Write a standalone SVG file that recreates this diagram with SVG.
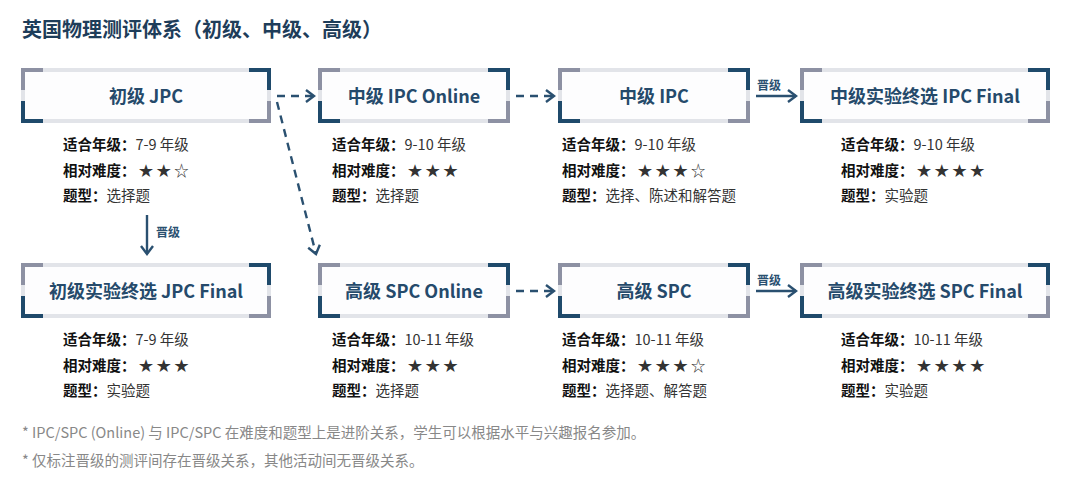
<svg xmlns="http://www.w3.org/2000/svg" width="1080" height="486" viewBox="0 0 1080 486">
<defs>
<style>
text{font-family:"Noto Sans CJK SC","Noto Sans",sans-serif}
.t{font-size:20px;font-weight:bold;fill:#1e3d5a}
.bt{font-size:18px;font-weight:bold;fill:#254a6b;text-anchor:middle}
.i{font-size:14.5px;fill:#333}
.i tspan.b{font-weight:bold;fill:#111}
.f{font-size:14.5px;fill:#888}
.box{fill:#fdfdfe;stroke:#e2e4e9;stroke-width:4}
.g{fill:none;stroke:#8d91a3;stroke-width:4}
.d{fill:none;stroke:#1f4a6b;stroke-width:4}
.c{fill:none;stroke:#2a5070;stroke-width:2.4}
.dash{stroke-dasharray:8 6}
.lb{font-size:12px;font-weight:bold;fill:#2a5070}
</style>
<marker id="a" viewBox="0 0 12 14" refX="10" refY="7" markerWidth="12" markerHeight="14" markerUnits="userSpaceOnUse" orient="auto"><path d="M2 1L10 7L2 13" fill="none" stroke="#2a5070" stroke-width="2.4"/></marker>
</defs>
<text class="t" x="22" y="37">英国物理测评体系（初级、中级、高级）</text>
<g id="connectors">
<path class="c dash" d="M277 96H314" marker-end="url(#a)"/>
<path class="c dash" d="M277 102L316 254" marker-end="url(#a)"/>
<path class="c dash" d="M516 96H554" marker-end="url(#a)"/>
<path class="c dash" d="M516 291H554" marker-end="url(#a)"/>
<path class="c" d="M756 96H796" marker-end="url(#a)"/>
<text class="lb" x="757" y="90">晋级</text>
<path class="c" d="M756 291H796" marker-end="url(#a)"/>
<text class="lb" x="757" y="285">晋级</text>
<path class="c" d="M147 215V254" marker-end="url(#a)"/>
<text class="lb" x="156" y="237">晋级</text>
</g>
<g id="n1" transform="translate(21,68)"><rect class="box" x="2" y="2" width="246" height="51"/><path class="g" d="M22 2H2V22M228 53H248V33"/><path class="d" d="M2 33V53H22M228 2H248V22"/><text class="bt" x="125" y="35">初级 JPC</text>
<text class="i" x="42" y="82"><tspan class="b">适合年级：</tspan>7-9 年级</text><text class="i" x="42" y="108"><tspan class="b">相对难度：</tspan> ★ ★ ☆</text><text class="i" x="42" y="133"><tspan class="b">题型：</tspan>选择题</text></g>
<g id="n2" transform="translate(318,68)"><rect class="box" x="2" y="2" width="188" height="51"/><path class="g" d="M22 2H2V22M170 53H190V33"/><path class="d" d="M2 33V53H22M170 2H190V22"/><text class="bt" x="96" y="35">中级 IPC Online</text>
<text class="i" x="14" y="82"><tspan class="b">适合年级：</tspan>9-10 年级</text><text class="i" x="14" y="108"><tspan class="b">相对难度：</tspan> ★ ★ ★</text><text class="i" x="14" y="133"><tspan class="b">题型：</tspan>选择题</text></g>
<g id="n3" transform="translate(558,68)"><rect class="box" x="2" y="2" width="188" height="51"/><path class="g" d="M22 2H2V22M170 53H190V33"/><path class="d" d="M2 33V53H22M170 2H190V22"/><text class="bt" x="96" y="35">中级 IPC</text>
<text class="i" x="4" y="82"><tspan class="b">适合年级：</tspan>9-10 年级</text><text class="i" x="4" y="108"><tspan class="b">相对难度：</tspan> ★ ★ ★ ☆</text><text class="i" x="4" y="133"><tspan class="b">题型：</tspan>选择、陈述和解答题</text></g>
<g id="n4" transform="translate(800,68)"><rect class="box" x="2" y="2" width="246" height="51"/><path class="g" d="M22 2H2V22M228 53H248V33"/><path class="d" d="M2 33V53H22M228 2H248V22"/><text class="bt" x="125" y="35">中级实验终选 IPC Final</text>
<text class="i" x="41" y="82"><tspan class="b">适合年级：</tspan>9-10 年级</text><text class="i" x="41" y="108"><tspan class="b">相对难度：</tspan> ★ ★ ★ ★</text><text class="i" x="41" y="133"><tspan class="b">题型：</tspan>实验题</text></g>
<g id="n5" transform="translate(21,263)"><rect class="box" x="2" y="2" width="246" height="51"/><path class="g" d="M22 2H2V22M228 53H248V33"/><path class="d" d="M2 33V53H22M228 2H248V22"/><text class="bt" x="125" y="35">初级实验终选 JPC Final</text>
<text class="i" x="42" y="82"><tspan class="b">适合年级：</tspan>7-9 年级</text><text class="i" x="42" y="108"><tspan class="b">相对难度：</tspan> ★ ★ ★</text><text class="i" x="42" y="133"><tspan class="b">题型：</tspan>实验题</text></g>
<g id="n6" transform="translate(318,263)"><rect class="box" x="2" y="2" width="188" height="51"/><path class="g" d="M22 2H2V22M170 53H190V33"/><path class="d" d="M2 33V53H22M170 2H190V22"/><text class="bt" x="96" y="35">高级 SPC Online</text>
<text class="i" x="14" y="82"><tspan class="b">适合年级：</tspan>10-11 年级</text><text class="i" x="14" y="108"><tspan class="b">相对难度：</tspan> ★ ★ ★</text><text class="i" x="14" y="133"><tspan class="b">题型：</tspan>选择题</text></g>
<g id="n7" transform="translate(558,263)"><rect class="box" x="2" y="2" width="188" height="51"/><path class="g" d="M22 2H2V22M170 53H190V33"/><path class="d" d="M2 33V53H22M170 2H190V22"/><text class="bt" x="96" y="35">高级 SPC</text>
<text class="i" x="4" y="82"><tspan class="b">适合年级：</tspan>10-11 年级</text><text class="i" x="4" y="108"><tspan class="b">相对难度：</tspan> ★ ★ ★ ☆</text><text class="i" x="4" y="133"><tspan class="b">题型：</tspan>选择题、解答题</text></g>
<g id="n8" transform="translate(800,263)"><rect class="box" x="2" y="2" width="246" height="51"/><path class="g" d="M22 2H2V22M228 53H248V33"/><path class="d" d="M2 33V53H22M228 2H248V22"/><text class="bt" x="125" y="35">高级实验终选 SPC Final</text>
<text class="i" x="41" y="82"><tspan class="b">适合年级：</tspan>10-11 年级</text><text class="i" x="41" y="108"><tspan class="b">相对难度：</tspan> ★ ★ ★ ★</text><text class="i" x="41" y="133"><tspan class="b">题型：</tspan>实验题</text></g>
<text class="f" x="22" y="438">* IPC/SPC (Online) 与 IPC/SPC 在难度和题型上是进阶关系，学生可以根据水平与兴趣报名参加。</text>
<text class="f" x="22" y="466">* 仅标注晋级的测评间存在晋级关系，其他活动间无晋级关系。</text>
</svg>
